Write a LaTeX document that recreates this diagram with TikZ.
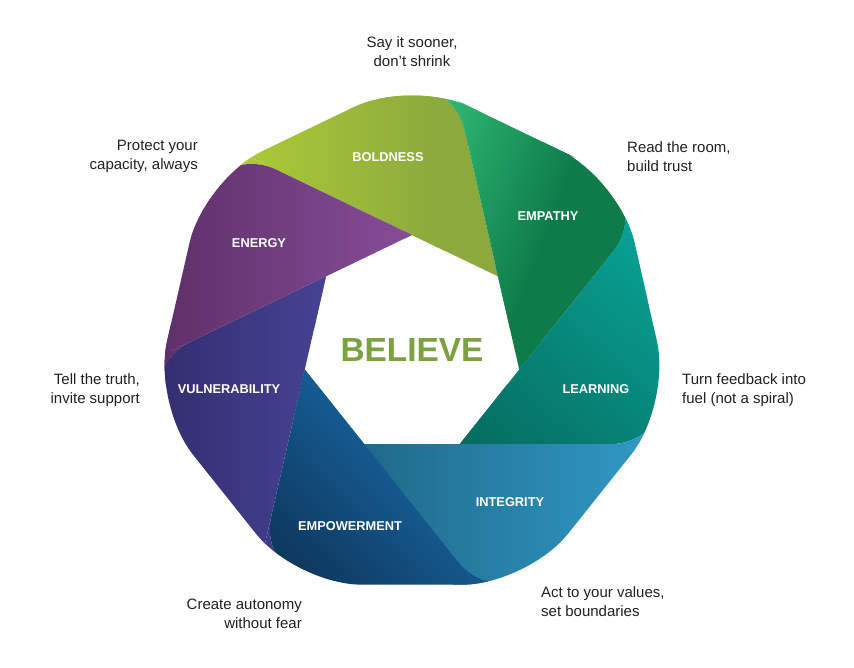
\documentclass[tikz,border=0pt]{standalone}
\usepackage{fontspec}
\setmainfont{Liberation Sans}
\usetikzlibrary{calc}
\definecolor{capt}{HTML}{231F20}
\definecolor{believe}{HTML}{7BA23F}
\definecolor{c0a}{HTML}{B5D435}\definecolor{c0b}{HTML}{8BA93D}
\definecolor{c1a}{HTML}{2EB874}\definecolor{c1b}{HTML}{0E7C4A}
\definecolor{c2a}{HTML}{056A5D}\definecolor{c2b}{HTML}{08A89B}
\definecolor{c3a}{HTML}{1A5C79}\definecolor{c3b}{HTML}{37ABDC}
\definecolor{c4a}{HTML}{0A2744}\definecolor{c4b}{HTML}{166099}
\definecolor{c5a}{HTML}{2D2461}\definecolor{c5b}{HTML}{4B4BA1}
\definecolor{c6a}{HTML}{4B2253}\definecolor{c6b}{HTML}{9A5BAE}
\def\Opath{($(O0)!0.5!(O1)$) -- (O1) -- (O2) -- (O3) -- (O4) -- (O5) -- (O6) -- (O0) -- cycle}
\newcommand\shadeband[5]{%
  \begin{scope}[transform canvas={shift={#1},rotate=#2}]
    \fill[#4] (-1500,-1500) rectangle (1,1500);
    \fill[#5] ({#3-1},-1500) rectangle (1500,1500);
    \shade[left color=#4,right color=#5] ({-0.5*#3},-1500) rectangle ({1.5*#3},1500);
  \end{scope}}
% #1 k, #2 k-1, #3 k+1, #4 S, #5 angle, #6 length, #7 #8 colours
\newcommand\band[8]{%
  \begin{scope}
    \clip[rounded corners=65pt] \Opath;
    \clip (I#3) -- (I#1) -- (X#1) -- (Ta#1) .. controls (Ca#1) and (Cb#1) .. (Tb#1) -- cycle;
    \shadeband{#4}{#5}{#6}{#7}{#8}
  \end{scope}
  \begin{scope}
    \clip[rounded corners=65pt] \Opath;
    \clip (Ta#2) -- (Y#2) -- (Tb#2) .. controls (Cb#2) and (Ca#2) .. (Ta#2) -- cycle;
    \shadeband{#4}{#5}{#6}{#7}{#8}
  \end{scope}}
\tikzset{
  captext/.style={font=\fontsize{15}{19}\selectfont, text=capt, inner sep=0pt},
  bandlab/.style={font=\bfseries\fontsize{12.8}{15}\selectfont, text=white, inner sep=0pt},
}
\begin{document}
\begin{tikzpicture}[x=1pt,y=-1pt]
\useasboundingbox (0,0) rectangle (854,668);
\coordinate (C) at (412,345);
\foreach \k in {0,...,6}{
  \coordinate (I\k) at ($(C)+({110*sin(\k*360/7)},{-110*cos(\k*360/7)})$);
  \coordinate (O\k) at ($(C)+({266*sin(\k*360/7)},{-266*cos(\k*360/7)})$);
  \coordinate (X\k) at ($(C)+({248.15*sin(\k*360/7-40.74)},{-248.15*cos(\k*360/7-40.74)})$);
  \coordinate (Y\k) at ($(C)+({286.16*sin(\k*360/7+7.406)},{-286.16*cos(\k*360/7+7.406)})$);
}
\foreach \k in {0,...,6}{
  \pgfmathtruncatemacro\ka{mod(\k+1,7)}
  \coordinate (Ta\k) at ($(Y\k)!70pt!(X\k)$);
  \coordinate (Tb\k) at ($(Y\k)!70pt!(I\ka)$);
  \coordinate (Ca\k) at ($(Y\k)!34pt!(X\k)$);
  \coordinate (Cb\k) at ($(Y\k)!34pt!(I\ka)$);
}
% bands: k, k-1, k+1
\band{0}{6}{1}{(250,150)}{0}{130}{c0a}{c0b}
\band{1}{0}{2}{(470,140)}{-21}{70}{c1a}{c1b}
\band{2}{1}{3}{(545,420)}{48.8}{159}{c2a}{c2b}
\band{3}{2}{4}{(400,500)}{0}{240}{c3a}{c3b}
\band{4}{3}{5}{(285,575)}{43.3}{117}{c4a}{c4b}
\band{5}{4}{6}{(165,400)}{0}{150}{c5a}{c5b}
\band{6}{5}{0}{(170,250)}{0}{235}{c6a}{c6b}

\node[bandlab] (boldness) at (388,157) {BOLDNESS};
\node[bandlab] (empathy) at (548,216) {EMPATHY};
\node[bandlab] (learning) at (596,389) {LEARNING};
\node[bandlab] (integrity) at (510,502) {INTEGRITY};
\node[bandlab] (empowerment) at (350,526) {EMPOWERMENT};
\node[bandlab] (vulnerability) at (229,389) {VULNERABILITY};
\node[bandlab] (energy) at (259,243) {ENERGY};
\node[font=\bfseries\fontsize{33.4}{40}\selectfont, text=believe, inner sep=0pt] (believe) at (412,350) {BELIEVE};

\node[captext, align=center] (t0) at (412,51.5) {Say it sooner,\\don’t shrink};
\node[captext, align=left, anchor=west] (t1) at (627,156.5) {Read the room,\\build trust};
\node[captext, align=left, anchor=west] (t2) at (682,390.5) {Turn feedback into\\fuel (not a spiral)};
\node[captext, align=left, anchor=west] (t3) at (541,601.5) {Act to your values,\\set boundaries};
\node[captext, align=right, anchor=east] (t4) at (302,613.5) {Create autonomy\\without fear};
\node[captext, align=right, anchor=east] (t5) at (140,390.5) {Tell the truth,\\invite support};
\node[captext, align=right, anchor=east] (t6) at (198,156.5) {Protect your\\capacity, always};
\end{tikzpicture}
\end{document}
